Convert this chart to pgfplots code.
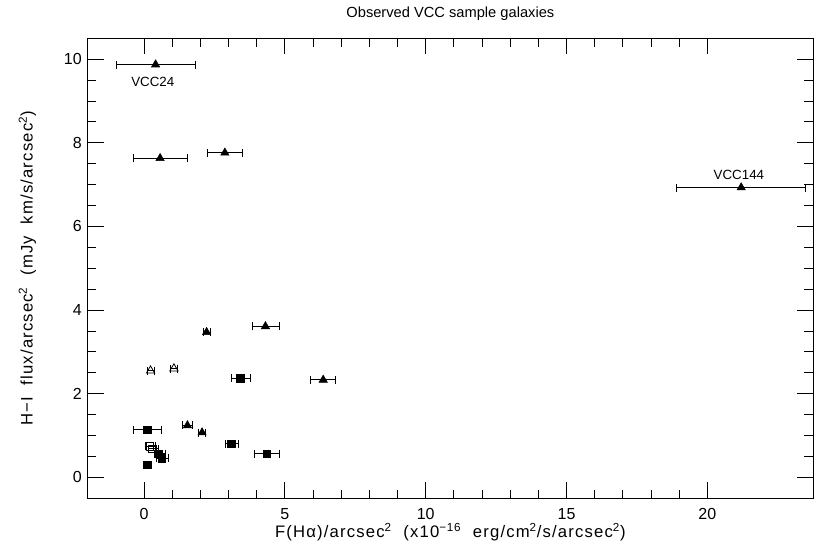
\documentclass[border=0pt]{standalone}
\usepackage{pgfplots}
\pgfplotsset{compat=1.18}
\usepackage{pgfplotstable}
\usepackage{fontspec}
\setmainfont{Liberation Sans}
\newfontfamily\labelfont[LetterSpace=7]{Liberation Sans}

\pgfplotstableread{
x y exm exp
0.41 9.87 1.39 1.41
0.57 7.63 0.95 0.98
2.87 7.76 0.62 0.63
21.2 6.93 2.30 2.29
4.31 3.61 0.48 0.49
6.36 2.33 0.46 0.45
2.22 3.47 0.12 0.12
1.54 1.24 0.19 0.19
2.06 1.07 0.12 0.12
}\filledtri

\pgfplotstableread{
x y exm exp
0.23 2.55 0.12 0.12
1.06 2.60 0.12 0.12
}\opentri

\pgfplotstableread{
x y exm exp
3.42 2.37 0.33 0.34
0.12 1.14 0.50 0.51
3.10 0.80 0.21 0.25
4.35 0.56 0.43 0.44
0.12 0.30 0.10 0.10
0.53 0.56 0.15 0.24
0.62 0.45 0.18 0.26
}\filledsq

\pgfplotstableread{
x y exm exp
0.20 0.74 0.17 0.21
0.30 0.68 0.15 0.20
}\opensq

\begin{document}
\begin{tikzpicture}
\begin{axis}[
  scale only axis,
  width=544pt, height=345pt,
  xmin=-2, xmax=23.75,
  ymin=-0.5, ymax=10.5,
  xtick={0,5,10,15,20},
  ytick={0,2,4,6,8,10},
  minor x tick num=4,
  minor y tick num=3,
  major tick length=12pt,
  minor tick length=6.5pt,
  tick align=inside,
  axis line style={black, line width=0.7pt},
  tick style={black, line width=0.6pt},
  /pgf/number format/assume math mode=true,
  ticklabel style={font=\fontsize{12}{14}\selectfont},
  xticklabel style={yshift=-4pt},
  yticklabel style={xshift=-1pt},
  title={Observed VCC sample galaxies},
  title style={font=\fontsize{11}{13}\selectfont, yshift=4pt},
  xlabel={F(Hα)/arcsec\textsuperscript{2}\ \ (x10\textsuperscript{−16}\ \ erg/cm\textsuperscript{2}/s/arcsec\textsuperscript{2})},
  ylabel={H−I\ \ flux/arcsec\textsuperscript{2}\ \ (mJy\ \ km/s/arcsec\textsuperscript{2})},
  label style={font=\labelfont\fontsize{12.5}{14}\selectfont},
  xlabel style={yshift=4pt},
  ylabel style={yshift=14pt},
  error bars/error mark options={black, mark size=3pt, line width=0.6pt, rotate=90},
]
\addplot[only marks, mark=triangle*, mark size=3.6pt, black,
  error bars/.cd, x dir=both, x explicit, error bar style={black, line width=0.6pt}]
  table[x=x, y=y, x error minus=exm, x error plus=exp] {\filledtri};
\addplot[only marks, mark=triangle, mark size=3.6pt, black, mark options={fill=white, line width=0.6pt},
  error bars/.cd, x dir=both, x explicit, error bar style={black, line width=0.6pt}]
  table[x=x, y=y, x error minus=exm, x error plus=exp] {\opentri};
\addplot[only marks, mark=square*, mark size=2.8pt, black,
  error bars/.cd, x dir=both, x explicit, error bar style={black, line width=0.6pt}]
  table[x=x, y=y, x error minus=exm, x error plus=exp] {\filledsq};
\addplot[only marks, mark=square, mark size=2.8pt, black, mark options={line width=0.6pt},
  error bars/.cd, x dir=both, x explicit, error bar style={black, line width=0.6pt}]
  table[x=x, y=y, x error minus=exm, x error plus=exp] {\opensq};
\node[font=\fontsize{10}{12}\selectfont] at (axis cs:0.31,9.45) {VCC24};
\node[font=\fontsize{10}{12}\selectfont] at (axis cs:21.12,7.22) {VCC144};
\end{axis}
\pgfresetboundingbox
\path[use as bounding box] ([shift={(-65.8pt,-37.3pt)}]current axis.south west) rectangle ([shift={(1.5pt,28.7pt)}]current axis.north east);
\end{tikzpicture}
\end{document}
